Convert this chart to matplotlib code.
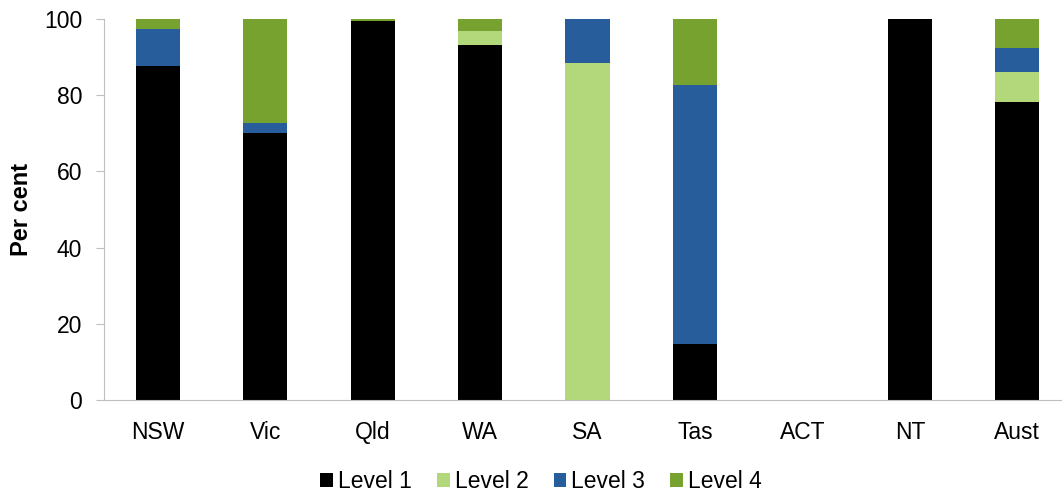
import matplotlib
matplotlib.use("Agg")
import matplotlib.pyplot as plt
import numpy as np

plt.rcParams['font.family'] = ['Liberation Sans', 'DejaVu Sans']

# data (per cent)
states = ["NSW", "Vic", "Qld", "WA", "SA", "Tas", "ACT", "NT", "Aust"]
level1 = [87.7, 70.1, 99.6, 93.2, 0.0, 14.8, 0.0, 100.0, 78.1]
level2 = [0.0, 0.0, 0.0, 3.7, 88.5, 0.0, 0.0, 0.0, 8.0]
level3 = [9.7, 2.5, 0.0, 0.0, 11.5, 67.9, 0.0, 0.0, 6.2]
level4 = [2.6, 27.4, 0.4, 3.1, 0.0, 17.3, 0.0, 0.0, 7.7]

series = [("Level 1", level1, "#000000"),
          ("Level 2", level2, "#b3d77b"),
          ("Level 3", level3, "#285d9c"),
          ("Level 4", level4, "#78a22f")]

fig = plt.figure(figsize=(10.62, 4.94), dpi=100)
ax = fig.add_axes([104 / 1062, 1 - 400 / 494, 967 / 1062, 381 / 494])

x = np.arange(len(states))
bottom = np.zeros(len(states))
for name, vals, col in series:
    vals = np.array(vals)
    ax.bar(x, vals, 0.41, bottom=bottom, color=col, label=name)
    bottom += vals

ax.set_xlim(-0.5, len(states) - 0.5)
ax.set_ylim(0, 100)
ax.set_yticks(range(0, 101, 20))
ax.set_xticks(x)
ax.set_xticklabels(states)
ax.tick_params(axis="both", labelsize=16.5, colors="#000000")
ax.tick_params(axis="x", length=0, pad=15)
ax.tick_params(axis="y", length=5.8, color="#bfbfbf", pad=10)
for s in ["top", "right"]:
    ax.spines[s].set_visible(False)
for s in ["left", "bottom"]:
    ax.spines[s].set_color("#bfbfbf")

ax.set_ylabel("Per cent", fontsize=17, fontweight="bold", labelpad=8)

ax.legend(loc="center", bbox_to_anchor=(0.452, -0.214),
          ncol=4, frameon=False, fontsize=16.5, handlelength=0.55, handleheight=0.55,
          handletextpad=0.22, columnspacing=1.1)

fig.savefig("out.png", dpi=100)
